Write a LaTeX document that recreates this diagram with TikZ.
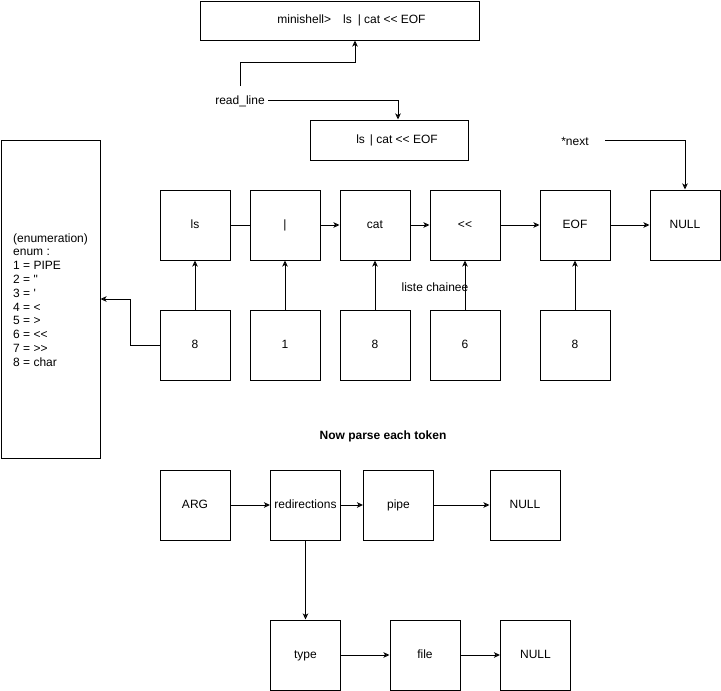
\documentclass[tikz,border=0pt]{standalone}
\usepackage{fontspec}
\newfontfamily\hv{Liberation Sans}
\usetikzlibrary{arrows.meta}
\begin{document}
\begin{tikzpicture}[x=1pt,y=-1pt,
  every node/.style={font=\hv\fontsize{12}{13.8}\selectfont},
  sq/.style={draw, line width=1pt, minimum width=70pt, minimum height=70pt, inner sep=0pt, text height=8.6pt, text depth=2.4pt},
  wbox/.style={draw, line width=1pt, inner sep=0pt, text height=8.6pt, text depth=2.4pt},
  lbl/.style={inner sep=0pt},
  con/.style={line width=1pt, -{Stealth[open,length=6pt,width=5.5pt,inset=1.5pt]}},
  plain/.style={line width=1pt}]
\useasboundingbox (0,0) rectangle (721,691);
% top boxes
\node[wbox, minimum width=279pt, minimum height=39pt] (prompt) at (339.5,20.5) {\hspace*{24pt}minishell>\hspace{12pt}ls\hspace{6pt}| cat << EOF};
\node[wbox, minimum width=158pt, minimum height=40pt] (line) at (389,140) {\hspace*{16pt}ls\hspace{5pt}| cat << EOF};
\node[lbl] (rl) at (240,101) {read\_line};
\coordinate (rlup) at (240,86);
\draw[con] (rlup) -- (240,62) -| (prompt.south -| 355,0);
\coordinate (rlr) at (268,100);
\draw[con] (rlr) -| (line.north -| 398,0);
% enum box
\node[wbox, minimum width=99pt, minimum height=318pt, text height=, text depth=] (enum) at (50.5,299) {};
\node[lbl, anchor=west, align=left] (enumtxt) at (13,300) {(enumeration)\\enum :\\1 = PIPE\\2 = "\\3 = '\\4 = <\\5 = >\\6 = <<\\7 = >>\\8 = char};
% token list
\node[sq] (ls) at (195,225) {ls};
\node[sq] (pp) at (285,225) {|};
\node[sq] (cat) at (375,225) {cat};
\node[sq] (hd) at (465,225) {<<};
\node[sq] (eof) at (575,225) {EOF};
\node[sq] (null1) at (685,225) {NULL};
\node[sq] (t1) at (195,345) {8};
\node[sq] (t2) at (285,345) {1};
\node[sq] (t3) at (375,345) {8};
\node[sq] (t4) at (465,345) {6};
\node[sq] (t5) at (575,345) {8};
\draw[plain] (ls) -- (pp);
\draw[con] (pp) -- (cat);
\draw[con] (cat) -- (hd);
\draw[con] (hd) -- (eof);
\draw[con] (eof) -- (null1);
\draw[con] (t1) -- (ls);
\draw[con] (t2) -- (pp);
\draw[con] (t3) -- (cat);
\draw[con] (t4) -- (hd);
\draw[con] (t5) -- (eof);
\draw[con] (t1.west) -- (130,345) |- (enum.east |- 0,299);
\node[lbl] (liste) at (435,287) {liste chainee};
\node[lbl] (next) at (575,141) {*next};
\coordinate (nx) at (605,140);
\draw[con] (nx) -| (null1.north);
% parse section
\node[lbl, font=\hv\bfseries\fontsize{12}{14}\selectfont] (title) at (383,436) {Now parse each token};
\node[sq] (arg) at (195,505) {ARG};
\node[sq] (redir) at (305.5,505) {redirections};
\node[sq] (pipe) at (398.5,505) {pipe};
\node[sq] (null2) at (525,505) {NULL};
\node[sq] (type) at (305.5,655) {type};
\node[sq] (file) at (425,655) {file};
\node[sq] (null3) at (535.5,655) {NULL};
\draw[con] (arg) -- (redir);
\draw[con] (redir) -- (pipe);
\draw[con] (pipe) -- (null2);
\draw[con] (redir) -- (type);
\draw[con] (type) -- (file);
\draw[con] (file) -- (null3);
\end{tikzpicture}
\end{document}
